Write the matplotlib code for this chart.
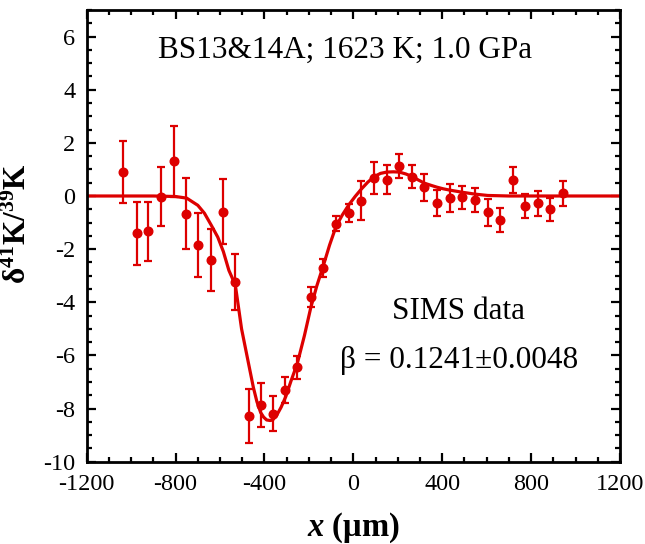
import numpy as np
import matplotlib
matplotlib.use('Agg')
import matplotlib.pyplot as plt
from matplotlib.ticker import MultipleLocator

plt.rcParams['font.family'] = ['Liberation Serif', 'DejaVu Serif']
plt.rcParams['mathtext.fontset'] = 'custom'
plt.rcParams['mathtext.rm'] = 'Liberation Serif'
plt.rcParams['mathtext.bf'] = 'Liberation Serif:bold'
plt.rcParams['mathtext.it'] = 'Liberation Serif:italic'
plt.rcParams['mathtext.bfit'] = 'Liberation Serif:bold:italic'
plt.rcParams['axes.unicode_minus'] = False

# SIMS data (x in um, delta 41K/39K, 1-sigma error)
x_data = [-1035, -975, -922, -867, -808, -753, -699, -640, -585, -531,
          -471, -417, -362, -306, -252, -192, -135, -78, -21, 36,
          94, 150, 207, 266, 320, 377, 433, 491, 548, 605,
          660, 717, 773, 830, 887, 942]
y_data = [0.90, -1.40, -1.33, -0.02, 1.30, -0.66, -1.85, -2.41, -0.59, -3.23,
          -8.27, -7.88, -8.19, -7.30, -6.45, -3.79, -2.72, -1.05, -0.65, -0.17,
          0.67, 0.61, 1.13, 0.73, 0.33, -0.27, -0.08, -0.05, -0.15, -0.62,
          -0.90, 0.61, -0.37, -0.27, -0.50, 0.10]
y_err = [1.16, 1.18, 1.12, 1.12, 1.33, 1.32, 1.20, 1.18, 1.22, 1.05,
         1.02, 0.83, 0.66, 0.50, 0.42, 0.38, 0.34, 0.28, 0.34, 0.74,
         0.60, 0.55, 0.44, 0.43, 0.50, 0.50, 0.54, 0.44, 0.45, 0.52,
         0.46, 0.50, 0.46, 0.47, 0.44, 0.47]

# fitted model curve
x_fit = [-1200, -1000, -900, -800, -750, -700, -670, -640, -610, -585,
         -560, -531, -503, -471, -450, -434, -417, -404, -390, -374,
         -363, -344, -325, -304, -280, -252, -220, -192, -165, -135,
         -107, -78, -50, -21, 8, 36, 65, 94, 122, 150,
         180, 207, 236, 266, 293, 321, 350, 377, 405, 435,
         491, 548, 605, 700, 900, 1200]
y_fit = [0.0, 0.0, 0.0, -0.02, -0.08, -0.35, -0.65, -1.09, -1.55, -2.09,
         -2.80, -3.35, -5.00, -6.33, -7.20, -7.74, -8.15, -8.32, -8.43, -8.45,
         -8.43, -8.24, -7.95, -7.55, -6.95, -6.30, -5.25, -4.22, -3.40, -2.62,
         -1.85, -1.15, -0.72, -0.34, -0.02, 0.26, 0.52, 0.73, 0.85, 0.90,
         0.91, 0.90, 0.83, 0.73, 0.60, 0.48, 0.40, 0.33, 0.27, 0.22,
         0.14, 0.07, 0.02, 0.0, 0.0, 0.0]

red = '#dd0000'

fig = plt.figure(figsize=(6.45, 5.44), dpi=100)
ax = fig.add_axes([0.1344, 0.1513, 0.8268, 0.8303])

ax.plot(x_fit, y_fit, color=red, lw=2.3, zorder=2)
ax.errorbar(x_data, y_data, yerr=y_err, fmt='o', color=red, ms=6.2,
            elinewidth=1.6, capsize=3.2, capthick=1.6, zorder=3)

ax.set_xlim(-1200, 1200)
ax.set_ylim(-10, 7)
ax.xaxis.set_major_locator(MultipleLocator(400))
ax.xaxis.set_minor_locator(MultipleLocator(100))
ax.yaxis.set_minor_locator(MultipleLocator(0.5))
ax.set_yticks(np.arange(-10, 7, 2))
ax.tick_params(which='both', direction='in', top=True, right=True,
               width=1.6, labelsize=17.5)
ax.tick_params(axis='x', pad=9)
ax.tick_params(axis='y', pad=8)
ax.tick_params(which='major', length=6.5)
ax.tick_params(which='minor', length=3.5)
for s in ax.spines.values():
    s.set_linewidth(2)

ax.set_xlabel(r'$\mathbfit{x}$ (μm)', fontsize=23.5, fontweight='bold', labelpad=11)
ax.set_ylabel(r'$\mathbf{\delta^{41}K/^{39}K}$', fontsize=22.5)
ax.yaxis.set_label_coords(-0.10, 0.528)

ax.text(-38, 5.5, 'BS13&14A; 1623 K; 1.0 GPa', fontsize=22.5,
        ha='center', va='center')
ax.text(473, -4.35, 'SIMS data', fontsize=22.5, ha='center', va='center')
ax.text(476, -6.2, 'β = 0.1241±0.0048', fontsize=22.5, ha='center', va='center')

fig.savefig('out.png', dpi=100)
